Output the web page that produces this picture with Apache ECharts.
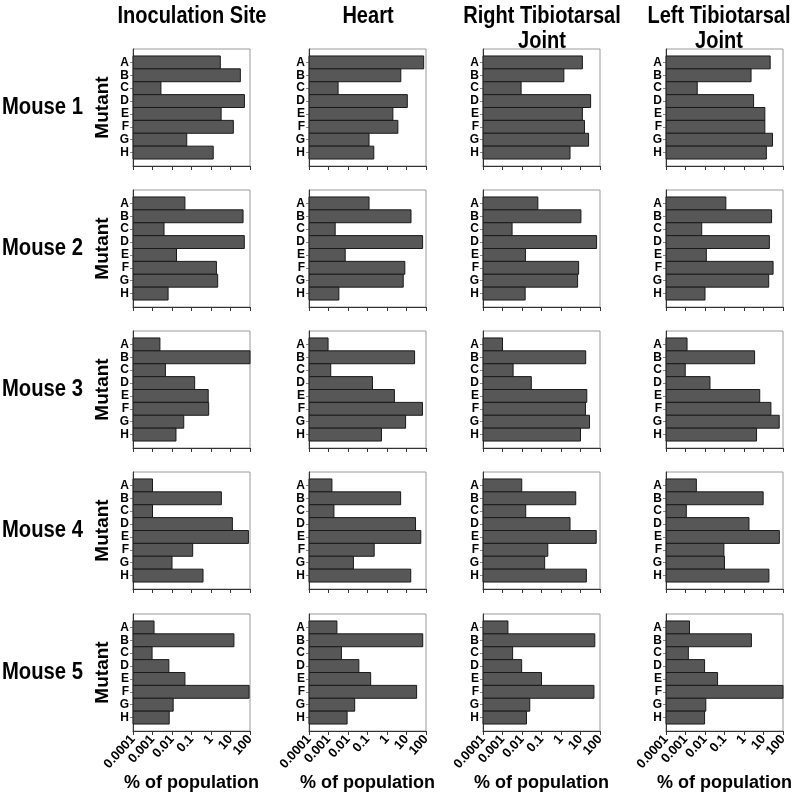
<!DOCTYPE html>
<html><head><meta charset="utf-8">
<script src="https://cdn.jsdelivr.net/npm/echarts@6/dist/echarts.min.js"></script>
<style>html,body{margin:0;padding:0;background:#fff}#c{width:794px;height:796px}</style>
</head><body><div id="c"></div>
<script>
const mutants = ['A','B','C','D','E','F','G','H'];
const tissues = ['Inoculation Site','Heart','Right Tibiotarsal\nJoint','Left Tibiotarsal\nJoint'];
const mice = ['Mouse 1','Mouse 2','Mouse 3','Mouse 4','Mouse 5'];
const xTickValues = [0.0001,0.001,0.01,0.1,1,10,100];
const xTickLabels = ['0.0001','0.001','0.01','0.1','1','10','100'];
const xLabel = '% of population';
const yLabel = 'Mutant';

// % of population per mutant A..H
const m1Inoc  = [3.0, 32, 0.0027, 52, 3.3, 14, 0.057, 1.3];
const m1Heart = [76, 5.1, 0.0031, 11, 2.0, 3.6, 0.12, 0.21];
const m1RTJ   = [12.5, 1.4, 0.009, 33, 12.5, 16, 26, 2.9];
const m1LTJ   = [22, 2.3, 0.004, 3.1, 11.7, 11.7, 29, 14];

const m2Inoc  = [0.046, 44, 0.0039, 51, 0.017, 1.9, 2.2, 0.0063];
const m2Heart = [0.12, 17, 0.0022, 67, 0.0072, 8.2, 6.8, 0.0034];
const m2RTJ   = [0.065, 10.5, 0.0031, 67, 0.015, 8.0, 7.1, 0.0145];
const m2LTJ   = [0.117, 26, 0.0068, 20, 0.0117, 31, 18.5, 0.01];

const m3Inoc  = [0.0024, 100, 0.0046, 0.145, 0.72, 0.76, 0.04, 0.016];
const m3Heart = [0.00095, 26, 0.0013, 0.18, 2.4, 66, 9.0, 0.52];
const m3RTJ   = [0.001, 18.5, 0.0035, 0.03, 21, 18, 29, 10];
const m3LTJ   = [0.0012, 3.5, 0.00097, 0.018, 6.4, 24, 64, 4.4];

const m4Inoc  = [0.001, 3.4, 0.001, 12.5, 83, 0.115, 0.01, 0.39];
const m4Heart = [0.0015, 5.0, 0.0019, 29, 54, 0.22, 0.019, 16.5];
const m4RTJ   = [0.0097, 5.7, 0.0155, 2.9, 64, 0.21, 0.145, 20];
const m4LTJ   = [0.0036, 9.6, 0.0011, 1.8, 65, 0.093, 0.1, 19];

const m5Inoc  = [0.0012, 15, 0.00095, 0.0069, 0.046, 90, 0.0115, 0.0072];
const m5Heart = [0.0027, 68, 0.0046, 0.036, 0.145, 33, 0.022, 0.009];
const m5RTJ   = [0.0019, 54, 0.0033, 0.0096, 0.1, 49, 0.025, 0.017];
const m5LTJ   = [0.0016, 2.4, 0.0014, 0.0095, 0.044, 100, 0.011, 0.0095];

const table = [
  [m1Inoc, m1Heart, m1RTJ, m1LTJ],
  [m2Inoc, m2Heart, m2RTJ, m2LTJ],
  [m3Inoc, m3Heart, m3RTJ, m3LTJ],
  [m4Inoc, m4Heart, m4RTJ, m4LTJ],
  [m5Inoc, m5Heart, m5RTJ, m5LTJ]
];

// layout
const colLeft = [133, 309, 483, 666];
const titleX = [192, 368, 542, 719];
const rowTop = [49, 190, 331, 472, 614];
const PW = 117, PH = 117;
const PAD = 0.54;
const xMin = xTickValues[0], xMax = xTickValues[xTickValues.length - 1];
const FONT = "'Liberation Sans', Arial, sans-serif";

function fmtX(v) {
  const i = xTickValues.findIndex(t => Math.abs(Math.log10(t) - Math.log10(v)) < 1e-6);
  return i >= 0 ? xTickLabels[i] : '';
}

const grids = [], xAxes = [], yAxes = [], series = [], graphics = [];
let gi = 0;
for (let r = 0; r < mice.length; r++) {
  for (let c = 0; c < tissues.length; c++) {
    const last = r === mice.length - 1;
    grids.push({left: colLeft[c], top: rowTop[r], width: PW, height: PH,
      show: true, borderColor: '#9a9a9a', borderWidth: 1, backgroundColor: '#fff'});
    xAxes.push({
      gridIndex: gi, type: 'log', logBase: 10, min: xMin, max: xMax, splitNumber: 6,
      position: 'bottom',
      axisLine: {show: true, onZero: false, lineStyle: {color: '#333', width: 1}},
      axisTick: {show: true, length: 4, lineStyle: {color: '#333'}, customValues: xTickValues},
      splitLine: {show: false}, minorTick: {show: false},
      axisLabel: {show: last, rotate: 48, margin: 6, fontSize: 13, fontWeight: 'bold',
        fontFamily: FONT, color: '#000', formatter: fmtX, customValues: xTickValues},
      name: last ? xLabel : '', nameLocation: 'middle', nameGap: 39,
      nameTextStyle: {fontSize: 18, fontWeight: 'bold', fontFamily: FONT, color: '#000'}
    });
    yAxes.push({
      gridIndex: gi, type: 'value', inverse: true, min: -0.5 - PAD, max: 7.5 + PAD,
      position: 'left',
      axisLine: {show: true, onZero: false, lineStyle: {color: '#333', width: 1}},
      axisTick: {show: true, length: 3, lineStyle: {color: '#888'}, customValues: mutants.map((m, i) => i)},
      splitLine: {show: false},
      axisLabel: {show: true, margin: 4, fontSize: 12, fontWeight: 'bold', fontFamily: FONT, color: '#000',
        customValues: mutants.map((m, i) => i), formatter: v => mutants[Math.round(v)] || ''},
      name: c === 0 ? yLabel : '', nameLocation: 'middle', nameRotate: 90, nameGap: 21,
      nameTextStyle: {fontSize: 19, fontWeight: 'bold', fontFamily: FONT, color: '#000'}
    });
    const vals = table[r][c];
    series.push({
      type: 'custom', xAxisIndex: gi, yAxisIndex: gi,
      data: vals.map((v, i) => [v, i]),
      encode: {x: 0, y: 1},
      renderItem: function (params, api) {
        const v = api.value(0), i = api.value(1);
        const p0 = api.coord([xMin, i - 0.5]);
        const p1 = api.coord([v, i + 0.5]);
        return {type: 'rect',
          shape: {x: p0[0], y: Math.min(p0[1], p1[1]), width: p1[0] - p0[0], height: Math.abs(p1[1] - p0[1])},
          style: {fill: '#575757', stroke: '#1a1a1a', lineWidth: 1}};
      }
    });
    gi++;
  }
}

for (let c = 0; c < tissues.length; c++) {
  const lines = tissues[c].split('\n');
  lines.forEach((t, k) => {
    graphics.push({type: 'text', x: titleX[c], y: 17 + k * 25, scaleX: 0.87,
      style: {text: t, textAlign: 'center', textVerticalAlign: 'middle',
        font: 'bold 23px ' + FONT, fill: '#000'}});
  });
}
for (let r = 0; r < mice.length; r++) {
  graphics.push({type: 'text', x: 2, y: rowTop[r] + PH / 2, scaleX: 0.88,
    style: {text: mice[r], textAlign: 'left', textVerticalAlign: 'middle',
      font: 'bold 23px ' + FONT, fill: '#000'}});
}

const chart = echarts.init(document.getElementById('c'), null, {renderer: 'canvas'});
chart.setOption({
  animation: false,
  backgroundColor: '#fff',
  grid: grids, xAxis: xAxes, yAxis: yAxes, series: series,
  graphic: graphics
});
</script></body></html>
